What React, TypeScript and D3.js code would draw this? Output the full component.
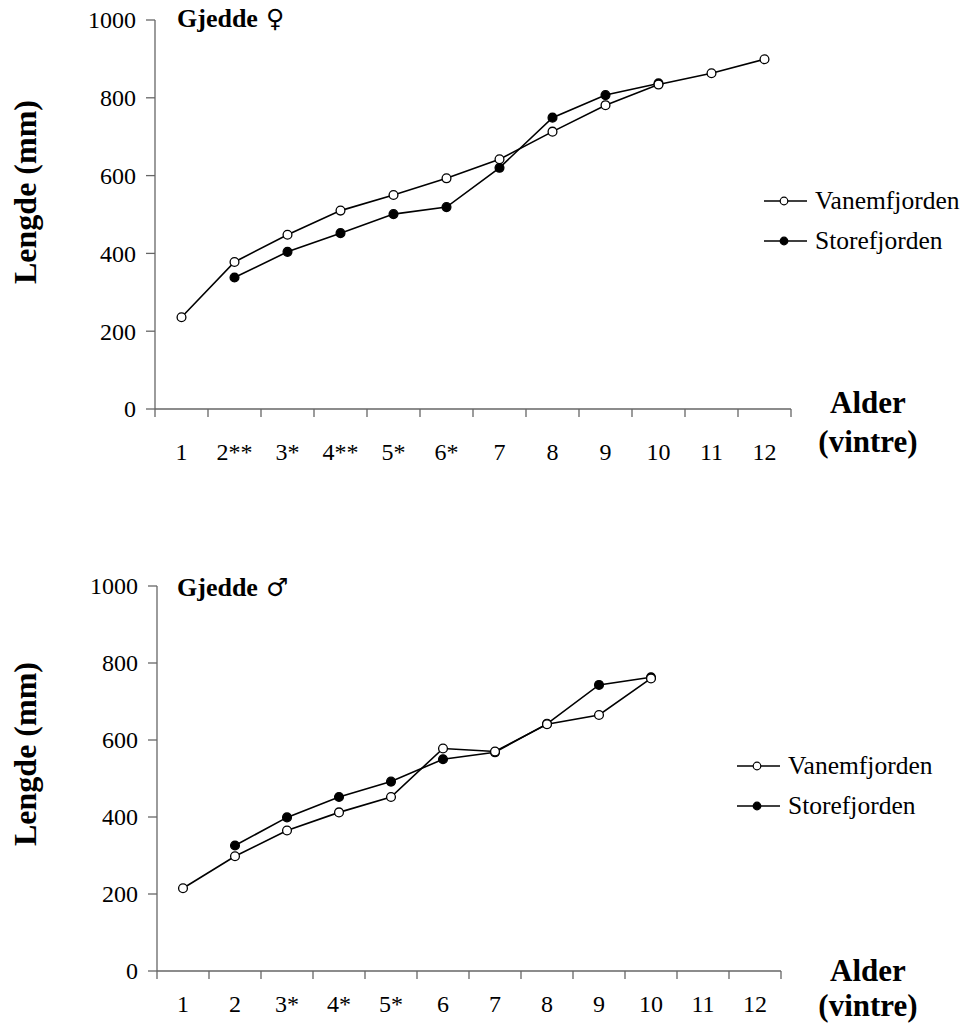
import React from 'react';
import * as d3 from 'd3';

const ages = ['1', '2', '3', '4', '5', '6', '7', '8', '9', '10', '11', '12'];
const femaleTickLabels = ['1', '2**', '3*', '4**', '5*', '6*', '7', '8', '9', '10', '11', '12'];
const maleTickLabels = ['1', '2', '3*', '4*', '5*', '6', '7', '8', '9', '10', '11', '12'];
const yTicks = [0, 200, 400, 600, 800, 1000];

const femaleVanem: (number | null)[] = [236, 378, 448, 510, 550, 593, 642, 713, 781, 834, 863, 899];
const femaleStore: (number | null)[] = [null, 338, 404, 452, 501, 519, 620, 749, 807, 837, null, null];
const maleVanem: (number | null)[] = [215, 298, 365, 412, 452, 578, 570, 641, 665, 760, null, null];
const maleStore: (number | null)[] = [null, 326, 399, 452, 492, 550, 568, 642, 743, 763, null, null];

const seriesNames = ['Vanemfjorden', 'Storefjorden'];

const FONT = "'Liberation Serif', 'Times New Roman', serif";
const AXIS = '#666';

type PanelProps = {
  x0: number; x1: number; yBase: number; yTop: number;
  title: string; symbol: string; tickLabels: string[];
  vanem: (number | null)[]; store: (number | null)[];
  titleY: number; yLabelY: number; tickLabelDy: number;
  alderY: number; vintreY: number;
  legendX: number; legendY: number;
};

function Panel(p: PanelProps) {
  const x = d3.scaleBand<string>().domain(ages).range([p.x0, p.x1]).padding(0);
  const y = d3.scaleLinear().domain([0, 1000]).range([p.yBase, p.yTop]);
  const cx = (i: number) => (x(ages[i]) as number) + x.bandwidth() / 2;
  const line = d3.line<number | null>()
    .defined(d => d != null)
    .x((_, i) => cx(i))
    .y(d => y(d as number));
  const boundaries = ages.map(a => x(a) as number).concat([p.x1]);
  const ptsV = p.vanem.map((v, i) => ({ v, i })).filter(d => d.v != null);
  const ptsS = p.store.map((v, i) => ({ v, i })).filter(d => d.v != null);
  const r = 4.4;
  return (
    <g>
      {/* y axis */}
      <line x1={p.x0} x2={p.x0} y1={y(1000)} y2={y(0)} stroke={AXIS} strokeWidth={1.3} />
      {yTicks.map(t => (
        <g key={t}>
          <line x1={p.x0 - 9} x2={p.x0} y1={y(t)} y2={y(t)} stroke={AXIS} strokeWidth={1.3} />
          <text x={p.x0 - 19} y={y(t)} dy="0.35em" textAnchor="end" fontSize={24} fontFamily={FONT}>{t}</text>
        </g>
      ))}
      {/* x axis */}
      <line x1={p.x0} x2={p.x1} y1={y(0)} y2={y(0)} stroke={AXIS} strokeWidth={1.3} />
      {boundaries.map((b, i) => (
        <line key={i} x1={b} x2={b} y1={y(0)} y2={y(0) + 8} stroke={AXIS} strokeWidth={1.3} />
      ))}
      {p.tickLabels.map((l, i) => (
        <text key={l} x={cx(i)} y={y(0) + p.tickLabelDy} textAnchor="middle" fontSize={24} fontFamily={FONT}>{l}</text>
      ))}
      {/* axis titles */}
      <text transform={`translate(36,${p.yLabelY}) rotate(-90)`} textAnchor="middle" fontSize={32} fontWeight="bold" fontFamily={FONT}>Lengde (mm)</text>
      <text x={868} y={p.alderY} textAnchor="middle" fontSize={31} fontWeight="bold" fontFamily={FONT}>Alder</text>
      <text x={868} y={p.vintreY} textAnchor="middle" fontSize={31} fontWeight="bold" fontFamily={FONT}>(vintre)</text>
      {/* panel title */}
      <text x={177} y={p.titleY} fontFamily={FONT}>
        <tspan fontSize={26} fontWeight="bold">{p.title}</tspan>
        <tspan fontSize={25} dx={8} fontFamily="'DejaVu Serif', 'DejaVu Sans', serif" fontWeight="normal">{p.symbol}</tspan>
      </text>
      {/* lines */}
      <path d={line(p.vanem) || ''} fill="none" stroke="#000" strokeWidth={1.6} />
      <path d={line(p.store) || ''} fill="none" stroke="#000" strokeWidth={1.6} />
      {ptsS.map(d => (
        <circle key={'s' + d.i} cx={cx(d.i)} cy={y(d.v as number)} r={r} fill="#000" stroke="#000" strokeWidth={1.3} />
      ))}
      {ptsV.map(d => (
        <circle key={'v' + d.i} cx={cx(d.i)} cy={y(d.v as number)} r={r} fill="#fff" stroke="#000" strokeWidth={1.3} />
      ))}
      {/* legend */}
      {seriesNames.map((n, i) => {
        const ly = p.legendY + i * 40;
        return (
          <g key={n}>
            <line x1={p.legendX} x2={p.legendX + 43} y1={ly} y2={ly} stroke="#000" strokeWidth={1.6} />
            <circle cx={p.legendX + 20} cy={ly} r={3.8} fill={i === 0 ? '#fff' : '#000'} stroke="#000" strokeWidth={1.2} />
            <text x={p.legendX + 51} y={ly} dy="0.33em" fontSize={25.5} fontFamily={FONT}>{n}</text>
          </g>
        );
      })}
    </g>
  );
}

export default function App() {
  return (
    <svg width={967} height={1027} style={{ position: 'absolute', left: 0, top: 0, background: '#fff' }}>
      <rect x={0} y={0} width={967} height={1027} fill="#fff" />
      <Panel x0={155} x1={791} yBase={409} yTop={20} title="Gjedde" symbol="♀" tickLabels={femaleTickLabels}
        vanem={femaleVanem} store={femaleStore} titleY={27} yLabelY={192} tickLabelDy={51}
        alderY={413} vintreY={452} legendX={764} legendY={201} />
      <Panel x0={157} x1={781} yBase={971} yTop={586} title="Gjedde" symbol="♂" tickLabels={maleTickLabels}
        vanem={maleVanem} store={maleStore} titleY={596} yLabelY={754} tickLabelDy={41}
        alderY={981} vintreY={1016} legendX={737} legendY={766} />
    </svg>
  );
}
